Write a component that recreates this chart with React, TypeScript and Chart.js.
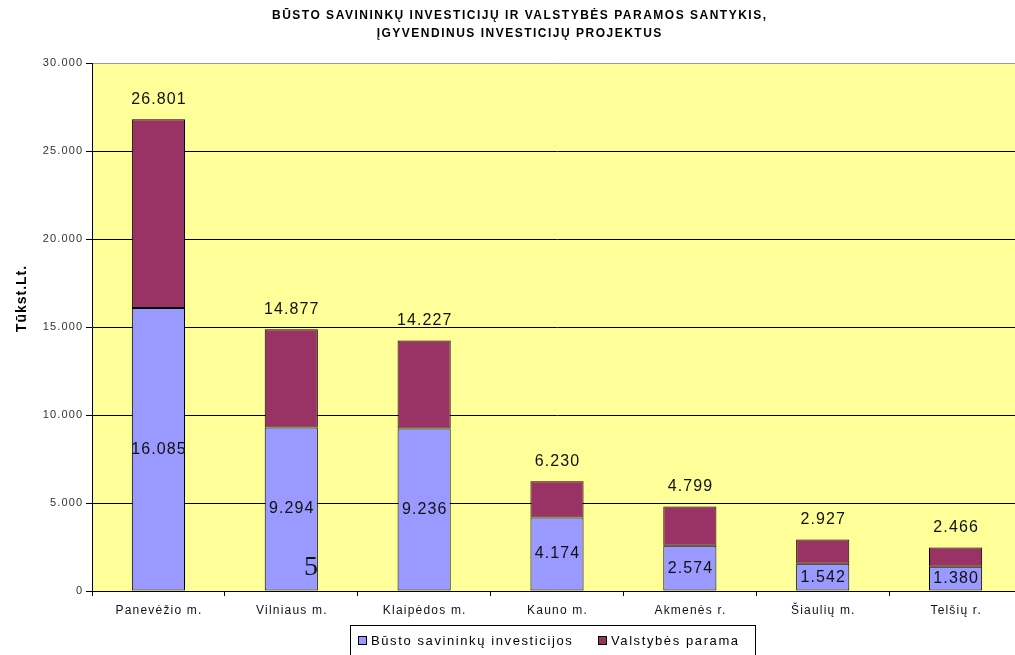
import { useEffect, useRef } from 'react';
import { Chart, registerables } from 'chart.js';

Chart.register(...registerables);

const categories = ['Panevėžio m.', 'Vilniaus m.', 'Klaipėdos m.', 'Kauno m.', 'Akmenės r.', 'Šiaulių m.', 'Telšių r.'];
const ownerInvestments = [16085, 9294, 9236, 4174, 2574, 1542, 1380];
const stateSupport = [10716, 5583, 4991, 2056, 2225, 1385, 1086];
const totals = [26801, 14877, 14227, 6230, 4799, 2927, 2466];
const yTickValues = [0, 5000, 10000, 15000, 20000, 25000, 30000];
const titleLines = ['BŪSTO SAVININKŲ INVESTICIJŲ IR VALSTYBĖS PARAMOS SANTYKIS,', 'ĮGYVENDINUS INVESTICIJŲ PROJEKTUS'];
const yTitle = 'Tūkst.Lt.';
const seriesNames = ['Būsto savininkų investicijos', 'Valstybės parama'];
const pageMark = '5';

const fmt = (n: number) => String(Math.round(n)).replace(/\B(?=(\d{3})+(?!\d))/g, '.');

const FONT = '"Liberation Sans", Arial, sans-serif';
const BLUE = '#9999FF';
const MAROON = '#993366';
const BG = '#FFFF99';

function spacedText(ctx: any, text: string, x: number, y: number, spacing: number, align: 'left' | 'center' | 'right') {
  ctx.letterSpacing = `${spacing}px`;
  const w = ctx.measureText(text).width - spacing;
  ctx.textAlign = 'left';
  let sx = x;
  if (align === 'center') sx = x - w / 2;
  else if (align === 'right') sx = x - w;
  ctx.fillText(text, sx, y);
  ctx.letterSpacing = '0px';
}

export default function App() {
  const ref = useRef<HTMLCanvasElement | null>(null);
  useEffect(() => {
    if (!ref.current) return;
    const decor = {
      id: 'decor',
      beforeDraw(chart: any) {
        const { ctx, chartArea } = chart;
        ctx.save();
        ctx.fillStyle = '#ffffff';
        ctx.fillRect(0, 0, chart.width, chart.height);
        ctx.fillStyle = BG;
        ctx.fillRect(chartArea.left, chartArea.top, chartArea.right - chartArea.left, chartArea.bottom - chartArea.top);
        ctx.restore();
      },
      afterDraw(chart: any) {
        const { ctx, scales } = chart;
        ctx.save();
        ctx.textBaseline = 'middle';
        // title
        ctx.fillStyle = '#000';
        ctx.font = `bold 12px ${FONT}`;
        spacedText(ctx, titleLines[0], 519, 16, 1.5, 'center');
        spacedText(ctx, titleLines[1], 519, 34, 1.5, 'center');
        // y tick labels
        ctx.font = `11px ${FONT}`;
        ctx.fillStyle = '#333';
        yTickValues.forEach((v) => {
          spacedText(ctx, fmt(v), 82, scales.y.getPixelForValue(v), 1.1, 'right');
        });
        // x labels
        ctx.font = `12px ${FONT}`;
        ctx.fillStyle = '#111';
        categories.forEach((c, i) => {
          spacedText(ctx, c, scales.x.getPixelForValue(i), 611, 1.2, 'center');
        });
        // y title
        ctx.save();
        ctx.translate(22, 299);
        ctx.rotate(-Math.PI / 2);
        ctx.font = `bold 14px ${FONT}`;
        ctx.fillStyle = '#000';
        spacedText(ctx, yTitle, 0, 0, 1, 'center');
        ctx.restore();
        // legend
        const lx = 350, ly = 625, lw = 405, lh = 40;
        ctx.fillStyle = '#fff';
        ctx.fillRect(lx, ly, lw, lh);
        ctx.strokeStyle = '#000';
        ctx.lineWidth = 1;
        ctx.strokeRect(lx + 0.5, ly + 0.5, lw, lh);
        ctx.font = `13px ${FONT}`;
        const items = [
          { x: 358, color: BLUE, text: seriesNames[0] },
          { x: 598, color: MAROON, text: seriesNames[1] },
        ];
        items.forEach((it) => {
          ctx.fillStyle = it.color;
          ctx.fillRect(it.x, 636, 8, 8);
          ctx.strokeRect(it.x + 0.5, 636.5, 8, 8);
          ctx.fillStyle = '#000';
          spacedText(ctx, it.text, it.x + 13, 641, 1.6, 'left');
        });
        // page mark artifact
        ctx.font = `28px "Liberation Serif", "Times New Roman", serif`;
        ctx.textAlign = 'center';
        ctx.fillStyle = '#111';
        ctx.fillText(pageMark, 311, 568);
        ctx.restore();
      },
      afterDatasetsDraw(chart: any) {
        const { ctx } = chart;
        const m0 = chart.getDatasetMeta(0);
        const m1 = chart.getDatasetMeta(1);
        ctx.save();
        ctx.font = `16px ${FONT}`;
        ctx.fillStyle = '#111';
        ctx.textBaseline = 'middle';
        m0.data.forEach((bar: any, i: number) => {
          const y = (bar.y + bar.base) / 2;
          spacedText(ctx, fmt(ownerInvestments[i]), bar.x, y, 1.1, 'center');
          const top = m1.data[i].y;
          spacedText(ctx, fmt(totals[i]), bar.x, top - 20, 1.1, 'center');
        });
        ctx.restore();
      },
    };

    const chart = new Chart(ref.current, {
      type: 'bar',
      data: {
        labels: categories,
        datasets: [
          { label: seriesNames[0], data: ownerInvestments, backgroundColor: BLUE, borderColor: '#000', borderWidth: 1, borderSkipped: false, barPercentage: 0.4, categoryPercentage: 1 },
          { label: seriesNames[1], data: stateSupport, backgroundColor: MAROON, borderColor: '#000', borderWidth: 1, borderSkipped: false, barPercentage: 0.4, categoryPercentage: 1 },
        ],
      },
      options: {
        responsive: false,
        animation: false,
        layout: { padding: { top: 63, right: 8, bottom: 0, left: 0 } },
        plugins: { legend: { display: false }, title: { display: false }, tooltip: { enabled: false } },
        scales: {
          x: {
            stacked: true,
            offset: true,
            grid: { display: true, drawOnChartArea: false, drawTicks: true, tickLength: 5, color: '#000', offset: true },
            border: { display: true, color: '#000', width: 1 },
            ticks: { color: 'rgba(0,0,0,0)', font: { family: FONT, size: 12 }, padding: 8, maxRotation: 0, autoSkip: false },
            afterFit(scale: any) { scale.height = 64; },
          },
          y: {
            stacked: true,
            min: 0,
            max: 30000,
            afterBuildTicks(scale: any) { scale.ticks = yTickValues.map((v) => ({ value: v })); },
            grid: {
              color: (c: any) => (c.tick && c.tick.value === 30000 ? '#999999' : '#000'),
              tickColor: '#000',
              tickLength: 6,
              drawTicks: true,
            },
            border: { display: true, color: '#000', width: 1 },
            ticks: { color: 'rgba(0,0,0,0)', font: { family: FONT, size: 11 }, padding: 4 },
            afterFit(scale: any) { scale.width = 92; },
          },
        },
      },
      plugins: [decor],
    });
    return () => chart.destroy();
  }, []);

  return (
    <div style={{ position: 'fixed', left: 0, top: 0, width: 1015, height: 655, overflow: 'hidden', background: '#fff' }}>
      <canvas ref={ref} width={1030} height={655} style={{ width: 1030, height: 655, display: 'block' }} />
    </div>
  );
}
